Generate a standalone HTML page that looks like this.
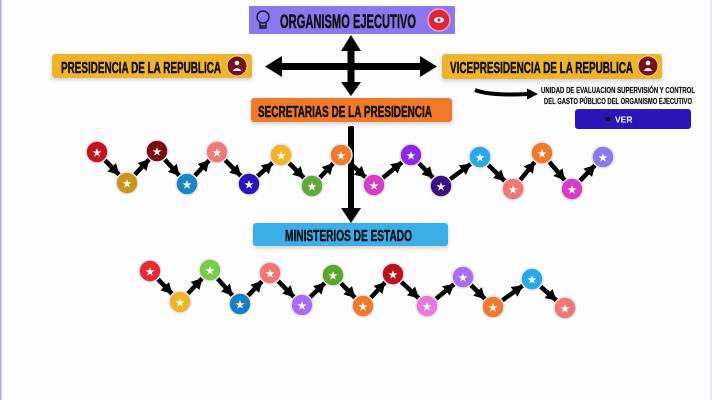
<!DOCTYPE html>
<html><head><meta charset="utf-8"><style>
html,body{margin:0;padding:0;background:#fdfdfd;}
svg{display:block;}
text{font-family:"Liberation Sans",sans-serif;font-weight:bold;}
.lab{stroke:#111;stroke-width:0.5;}
</style></head><body>
<svg width="712" height="400" viewBox="0 0 712 400" xmlns="http://www.w3.org/2000/svg">
<defs>
<marker id="h" markerUnits="userSpaceOnUse" markerWidth="30" markerHeight="14" refX="22" refY="6" orient="auto"><path d="M0,0 L11,6 L0,12 z" fill="#000"/></marker>
<filter id="sh" x="-10%" y="-30%" width="120%" height="170%"><feDropShadow dx="0" dy="2" stdDeviation="2" flood-color="#000" flood-opacity="0.18"/></filter>
</defs>
<rect x="0" y="0" width="712" height="400" fill="#fdfdfd"/>
<rect x="0" y="0" width="1.5" height="400" fill="#b3a8e6"/>
<rect x="710" y="0" width="2" height="400" fill="#ebe9f2"/>

<!-- Organismo -->
<rect x="249" y="6" width="206" height="28" fill="#8a78f0"/>
<g fill="none" stroke="#1a1a2e" stroke-width="1.5"><circle cx="263" cy="17" r="6"/><path d="M260,23 v5 h6 v-5 M260,26 h6"/></g>
<text class="lab" x="280" y="28" font-size="19" fill="#111" textLength="136" lengthAdjust="spacingAndGlyphs">ORGANISMO EJECUTIVO</text>
<circle cx="439" cy="20" r="11" fill="#e0243a" stroke="#f2a0c8" stroke-width="1.5"/>
<ellipse cx="439" cy="20" rx="5" ry="3" fill="#fff"/><circle cx="439" cy="20" r="1.6" fill="#e0243a"/>

<!-- Cross arrows -->
<g fill="#000">
<rect x="278" y="63" width="146" height="7"/>
<path d="M265,66.5 L282,56 L282,77 z"/><path d="M437,66.5 L420,56 L420,77 z"/>
<rect x="347.5" y="48" width="7" height="38"/>
<path d="M351,35 L341,51 L361,51 z"/><path d="M351,96 L341,82 L361,82 z"/>
</g>

<!-- Presidencia -->
<rect x="52" y="54" width="200" height="24" rx="3" fill="#f0b429" filter="url(#sh)"/>
<text class="lab" x="61" y="73" font-size="16" fill="#111" textLength="160" lengthAdjust="spacingAndGlyphs">PRESIDENCIA DE LA REPUBLICA</text>
<circle cx="237" cy="66" r="10" fill="#7a1015" stroke="#f6dfa0" stroke-width="1"/>
<circle cx="237" cy="63" r="2.3" fill="#fff"/><path d="M232.5,71 q4.5,-6 9,0 z" fill="#fff"/>

<!-- Vicepresidencia -->
<rect x="442" y="54" width="220" height="25" rx="3" fill="#f0b429" filter="url(#sh)"/>
<text class="lab" x="450" y="73" font-size="16" fill="#111" textLength="183" lengthAdjust="spacingAndGlyphs">VICEPRESIDENCIA DE LA REPUBLICA</text>
<circle cx="648" cy="66" r="10" fill="#7a1015" stroke="#f6dfa0" stroke-width="1"/>
<circle cx="648" cy="63" r="2.3" fill="#fff"/><path d="M643.5,71 q4.5,-6 9,0 z" fill="#fff"/>

<!-- Unidad -->
<path d="M475,90 Q490,96 528,94" stroke="#000" stroke-width="4" fill="none"/>
<path d="M538,94 L527,88.5 L527,99.5 z" fill="#000"/>
<text x="618" y="93" font-size="8.5" fill="#111" stroke="#111" stroke-width="0.2" text-anchor="middle" textLength="154" lengthAdjust="spacingAndGlyphs">UNIDAD DE EVALUACION SUPERVISIÓN Y CONTROL</text>
<text x="618" y="104" font-size="8.5" fill="#111" stroke="#111" stroke-width="0.2" text-anchor="middle" textLength="148" lengthAdjust="spacingAndGlyphs">DEL GASTO PÚBLICO DEL ORGANISMO EJECUTIVO</text>
<rect x="575" y="109" width="116" height="20" rx="3" fill="#2a16b8"/>
<ellipse cx="608" cy="119" rx="3" ry="2" fill="#111"/>
<text x="615" y="122.5" font-size="8.5" fill="#fff">VER</text>

<!-- Secretarias -->
<rect x="251" y="98" width="201" height="24" rx="3" fill="#f07a2a" filter="url(#sh)"/>
<text class="lab" x="258" y="117" font-size="16" fill="#111" textLength="174" lengthAdjust="spacingAndGlyphs">SECRETARIAS DE LA PRESIDENCIA</text>

<!-- vertical arrow -->
<rect x="348" y="126" width="6" height="84" fill="#000" rx="2"/>
<path d="M351,223 L341,208 L361,208 z" fill="#000"/>

<!-- Ministerios -->
<rect x="253" y="223" width="195" height="23" rx="3" fill="#3aaeea" filter="url(#sh)"/>
<text class="lab" x="285" y="241" font-size="16" fill="#111" textLength="127" lengthAdjust="spacingAndGlyphs">MINISTERIOS DE ESTADO</text>

<!-- Row 1 chain -->
<g stroke="#000" stroke-width="4.5" marker-end="url(#h)">
<line x1="97" y1="152" x2="127" y2="183"/><line x1="127" y1="183" x2="157" y2="151"/>
<line x1="157" y1="151" x2="187" y2="184"/><line x1="187" y1="184" x2="217" y2="152"/>
<line x1="217" y1="152" x2="249" y2="184"/><line x1="249" y1="184" x2="281" y2="155"/>
<line x1="281" y1="155" x2="312" y2="186"/><line x1="312" y1="186" x2="341" y2="155"/>
<line x1="341" y1="155" x2="374" y2="185"/><line x1="374" y1="185" x2="411" y2="155"/>
<line x1="411" y1="155" x2="441" y2="186"/><line x1="441" y1="186" x2="480" y2="157"/>
<line x1="480" y1="157" x2="513" y2="189"/><line x1="513" y1="189" x2="542" y2="153"/>
<line x1="542" y1="153" x2="572" y2="189"/><line x1="572" y1="189" x2="603" y2="157"/>
</g>
<g stroke="#ece6f4" stroke-width="1.5">
<circle cx="97" cy="152" r="11" fill="#c0161b"/><circle cx="127" cy="183" r="11" fill="#c8961a"/>
<circle cx="157" cy="151" r="11" fill="#7a0c0c"/><circle cx="187" cy="184" r="11" fill="#1b86c4"/>
<circle cx="217" cy="152" r="11" fill="#ef7a7a"/><circle cx="249" cy="184" r="11" fill="#2a16b8"/>
<circle cx="281" cy="155" r="11" fill="#f0b429"/><circle cx="312" cy="186" r="11" fill="#60a83a"/>
<circle cx="341" cy="155" r="11" fill="#ef7a2a"/><circle cx="374" cy="185" r="11" fill="#d63dc4"/>
<circle cx="411" cy="155" r="11" fill="#8a2be2"/><circle cx="441" cy="186" r="11" fill="#3d1080"/>
<circle cx="480" cy="157" r="11" fill="#2aa8e8"/><circle cx="513" cy="189" r="11" fill="#ef7777"/>
<circle cx="542" cy="153" r="11" fill="#ef7a2a"/><circle cx="572" cy="189" r="11" fill="#d63dc4"/>
<circle cx="603" cy="157" r="11" fill="#8a7aea"/>
</g>
<g fill="#fff" font-size="10" text-anchor="middle" style="font-family:'DejaVu Sans',sans-serif">
<text x="97" y="156">★</text><text x="127" y="187">★</text><text x="157" y="155">★</text><text x="187" y="188">★</text>
<text x="217" y="156">★</text><text x="249" y="188">★</text><text x="281" y="159">★</text><text x="312" y="190">★</text>
<text x="341" y="159">★</text><text x="374" y="189">★</text><text x="411" y="159">★</text><text x="441" y="190">★</text>
<text x="480" y="161">★</text><text x="513" y="193">★</text><text x="542" y="157">★</text><text x="572" y="193">★</text>
<text x="603" y="161">★</text>
</g>

<!-- Row 2 chain -->
<g stroke="#000" stroke-width="4.5" marker-end="url(#h)">
<line x1="150" y1="271" x2="180" y2="302"/><line x1="180" y1="302" x2="210" y2="270"/>
<line x1="210" y1="270" x2="240" y2="304"/><line x1="240" y1="304" x2="270" y2="273"/>
<line x1="270" y1="273" x2="302" y2="305"/><line x1="302" y1="305" x2="333" y2="275"/>
<line x1="333" y1="275" x2="363" y2="306"/><line x1="363" y1="306" x2="393" y2="274"/>
<line x1="393" y1="274" x2="427" y2="306"/><line x1="427" y1="306" x2="463" y2="277"/>
<line x1="463" y1="277" x2="493" y2="307"/><line x1="493" y1="307" x2="532" y2="279"/>
<line x1="532" y1="279" x2="565" y2="308"/>
</g>
<g stroke="#ece6f4" stroke-width="1.5">
<circle cx="150" cy="271" r="11" fill="#e82a35"/><circle cx="180" cy="302" r="11" fill="#f0b429"/>
<circle cx="210" cy="270" r="11" fill="#7acb4a"/><circle cx="240" cy="304" r="11" fill="#1a7fbf"/>
<circle cx="270" cy="273" r="11" fill="#ef7777"/><circle cx="302" cy="305" r="11" fill="#a96ef0"/>
<circle cx="333" cy="275" r="11" fill="#5fa52a"/><circle cx="363" cy="306" r="11" fill="#ef7a2a"/>
<circle cx="393" cy="274" r="11" fill="#b8151b"/><circle cx="427" cy="306" r="11" fill="#e87ad8"/>
<circle cx="463" cy="277" r="11" fill="#a96ef0"/><circle cx="493" cy="307" r="11" fill="#ef7a2a"/>
<circle cx="532" cy="279" r="11" fill="#2aa8e8"/><circle cx="565" cy="308" r="11" fill="#ef7777"/>
</g>
<g fill="#fff" font-size="10" text-anchor="middle" style="font-family:'DejaVu Sans',sans-serif">
<text x="150" y="275">★</text><text x="180" y="306">★</text><text x="210" y="274">★</text><text x="240" y="308">★</text>
<text x="270" y="277">★</text><text x="302" y="309">★</text><text x="333" y="279">★</text><text x="363" y="310">★</text>
<text x="393" y="278">★</text><text x="427" y="310">★</text><text x="463" y="281">★</text><text x="493" y="311">★</text>
<text x="532" y="283">★</text><text x="565" y="312">★</text>
</g>
</svg>
</body></html>
